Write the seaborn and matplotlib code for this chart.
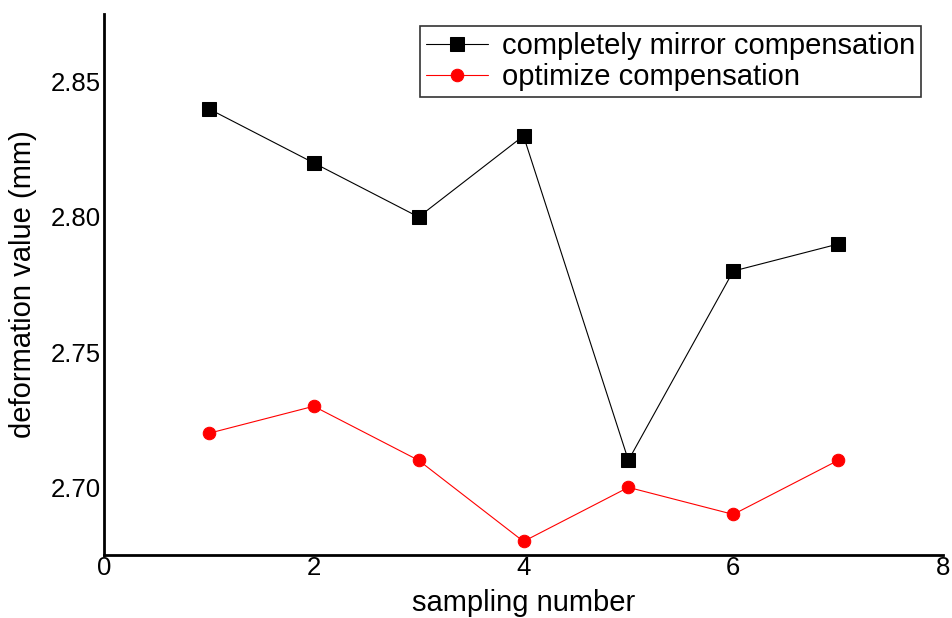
import pandas as pd
import seaborn as sns
import matplotlib.pyplot as plt

sampling = [1, 2, 3, 4, 5, 6, 7]
mirror = [2.84, 2.82, 2.80, 2.83, 2.71, 2.78, 2.79]
optimize = [2.72, 2.73, 2.71, 2.68, 2.70, 2.69, 2.71]
x_ticks = [0, 2, 4, 6, 8]
y_ticks = [2.70, 2.75, 2.80, 2.85]

sns.set_style("white")
plt.rcParams['font.family'] = ['Liberation Sans', 'DejaVu Sans']
plt.rcParams['text.color'] = 'black'
plt.rcParams['axes.labelcolor'] = 'black'
plt.rcParams['xtick.color'] = 'black'
plt.rcParams['ytick.color'] = 'black'

df = pd.DataFrame({'sampling': sampling, 'mirror': mirror, 'optimize': optimize})

fig = plt.figure(figsize=(9.52, 6.18), dpi=100)
ax = fig.add_axes([0.1092, 0.102, 0.8814, 0.875])

sns.lineplot(data=df, x='sampling', y='mirror', ax=ax, color='black', linewidth=0.8,
             marker='s', markersize=10, markeredgecolor='black',
             label='completely mirror compensation')
sns.lineplot(data=df, x='sampling', y='optimize', ax=ax, color='red', linewidth=0.8,
             marker='o', markersize=9, markeredgecolor='red',
             label='optimize compensation')

ax.set_xlim(0, 8)
ax.set_ylim(2.675, 2.875)
ax.set_xticks(x_ticks)
ax.set_yticks(y_ticks)
ax.set_yticklabels([f"{v:.2f}" for v in y_ticks])
ax.tick_params(length=0, labelsize=18.5)
ax.tick_params(axis='x', pad=1)
ax.tick_params(axis='y', pad=2)
ax.set_xlabel("sampling number", fontsize=21, labelpad=6)
ax.set_ylabel("deformation value (mm)", fontsize=21, labelpad=10)

sns.despine(ax=ax)
for s in ['left', 'bottom']:
    ax.spines[s].set_color('black')
    ax.spines[s].set_linewidth(2)

leg = ax.legend(loc='upper right', bbox_to_anchor=(0.974, 0.978), fontsize=21,
                frameon=True, fancybox=False, framealpha=1, borderpad=0.2,
                handlelength=2.1, handletextpad=0.5, labelspacing=0.1,
                borderaxespad=0)
leg.get_frame().set_edgecolor('#333333')
leg.get_frame().set_linewidth(1.2)

plt.savefig("out.png", dpi=100)
